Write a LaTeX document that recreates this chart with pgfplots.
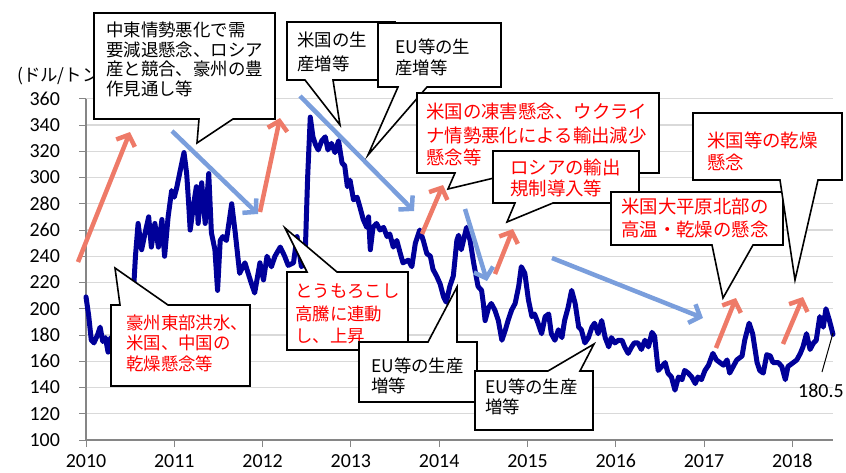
\documentclass[border=0pt]{standalone}
\usepackage{pgfplots}
\pgfplotsset{compat=1.18}
\usepackage{fontspec}
\setmainfont{Carlito}
\newfontfamily\jp{Noto Sans CJK JP}
\usetikzlibrary{arrows.meta}
\definecolor{navy}{RGB}{0,0,153}
\definecolor{redarr}{RGB}{238,122,104}
\definecolor{bluearr}{RGB}{122,158,220}
\definecolor{axgray}{RGB}{134,134,134}
\definecolor{gridgray}{RGB}{217,217,217}
\tikzset{
 arr/.style={line width=4.5bp, -{Straight Barb[length=9bp,width=20bp]}},
 callout/.style={fill=white, draw=black, line width=1.6bp, line join=miter},
 bt/.style={anchor=base west, inner sep=0pt, font=\jp\fontsize{17.5}{20}\selectfont},
 rt/.style={bt, text=red},
 rtl/.style={anchor=base west, inner sep=0pt, text=red, font=\jp\fontsize{18.5}{21}\selectfont},
}
\begin{document}
\begin{tikzpicture}[font=\fontsize{20}{24}\selectfont]
\useasboundingbox (0,0) rectangle (846bp,-473bp);
\begin{axis}[
  at={(86bp,-440bp)}, anchor=south west,
  scale only axis, width=747bp, height=341.25bp,
  xmin=2010, xmax=2018.46, ymin=100, ymax=360,
  axis lines*=left,
  axis line style={axgray, line width=1.2bp},
  xtick={2010,2011,...,2018}, minor x tick num=11,
  ytick={100,120,...,360},
  tick align=outside,
  major tick length=7bp, minor tick length=5bp,
  every tick/.style={axgray, line width=1bp},
  every minor tick/.style={axgray, line width=0.8bp},
  ymajorgrids, grid style={gridgray, line width=1.2bp},
  /pgf/number format/assume math mode=true,
  x tick label style={/pgf/number format/1000 sep={}, anchor=north, inner sep=0pt, yshift=-7bp},
  y tick label style={anchor=east, inner sep=0pt, xshift=-19bp},
  clip=false,
]
\addplot[navy, line width=5bp, line join=round, line cap=round] coordinates {
(2010.00,209)(2010.03,195)(2010.06,176)(2010.09,174)(2010.13,180)(2010.16,186)
(2010.19,175)(2010.22,178)(2010.25,167)(2010.28,178)(2010.32,174)(2010.36,176)
(2010.40,172)(2010.44,178)(2010.48,185)(2010.53,204)(2010.56,240)(2010.59,265)
(2010.63,245)(2010.67,258)(2010.71,270)(2010.74,247)(2010.78,265)(2010.82,247)
(2010.86,268)(2010.89,240)(2010.93,270)(2010.97,290)(2011.00,285)(2011.03,293)
(2011.06,303)(2011.11,319)(2011.14,303)(2011.16,283)(2011.18,260)(2011.22,280)
(2011.25,293)(2011.27,265)(2011.31,296)(2011.35,265)(2011.39,303)(2011.42,258)
(2011.46,245)(2011.49,214)(2011.52,252)(2011.55,255)(2011.59,252)(2011.65,280)
(2011.69,258)(2011.74,227)(2011.80,235)(2011.86,222)(2011.91,212)(2011.97,235)
(2012.01,222)(2012.05,240)(2012.10,232)(2012.14,240)(2012.20,247)(2012.25,240)
(2012.29,233)(2012.35,235)(2012.39,255)(2012.44,232)(2012.48,236)(2012.51,300)
(2012.54,346)(2012.57,331)(2012.60,325)(2012.63,321)(2012.67,328)(2012.71,331)
(2012.74,321)(2012.78,326)(2012.82,319)(2012.86,328)(2012.90,311)(2012.93,309)
(2012.96,293)(2012.99,298)(2013.03,283)(2013.07,285)(2013.10,278)(2013.14,268)
(2013.18,262)(2013.20,270)(2013.22,245)(2013.25,262)(2013.29,265)(2013.33,260)
(2013.37,262)(2013.41,255)(2013.44,257)(2013.48,247)(2013.52,252)(2013.56,242)
(2013.59,235)(2013.65,237)(2013.69,232)(2013.73,250)(2013.78,260)(2013.82,252)
(2013.86,242)(2013.90,240)(2013.93,230)(2013.97,225)(2014.01,219)(2014.05,209)
(2014.08,205)(2014.12,217)(2014.16,225)(2014.20,252)(2014.22,256)(2014.25,245)
(2014.31,262)(2014.35,252)(2014.39,235)(2014.44,217)(2014.48,214)(2014.50,204)
(2014.52,191)(2014.56,201)(2014.59,204)(2014.63,199)(2014.67,191)(2014.71,176)
(2014.75,184)(2014.78,191)(2014.82,199)(2014.86,204)(2014.90,217)(2014.93,232)
(2014.97,227)(2015.01,207)(2015.05,194)(2015.08,196)(2015.12,189)(2015.16,181)
(2015.20,194)(2015.24,196)(2015.27,181)(2015.31,176)(2015.35,184)(2015.39,178)
(2015.42,191)(2015.46,201)(2015.50,214)(2015.54,204)(2015.58,186)(2015.61,184)
(2015.65,174)(2015.69,178)(2015.73,186)(2015.76,189)(2015.80,181)(2015.84,191)
(2015.88,178)(2015.92,171)(2015.95,178)(2015.99,174)(2016.03,176)(2016.07,176)
(2016.10,171)(2016.14,166)(2016.18,171)(2016.21,174)(2016.25,174)(2016.29,169)
(2016.33,176)(2016.37,171)(2016.41,182)(2016.44,179)(2016.48,153)(2016.52,156)
(2016.56,159)(2016.59,151)(2016.63,148)(2016.67,138)(2016.71,148)(2016.75,146)
(2016.78,153)(2016.82,151)(2016.86,148)(2016.90,143)(2016.93,148)(2016.97,146)
(2017.01,153)(2017.05,157)(2017.10,166)(2017.14,161)(2017.18,159)(2017.22,157)
(2017.26,161)(2017.29,151)(2017.33,156)(2017.37,161)(2017.43,164)(2017.46,176)
(2017.51,189)(2017.55,181)(2017.60,159)(2017.63,153)(2017.67,151)(2017.71,165)
(2017.75,164)(2017.78,159)(2017.84,159)(2017.88,156)(2017.92,146)(2017.95,156)
(2018.01,159)(2018.05,161)(2018.09,166)(2018.12,171)(2018.16,181)(2018.20,169)
(2018.24,174)(2018.27,176)(2018.31,194)(2018.35,186)(2018.38,200)(2018.42,191)
(2018.46,180.5)
};
\end{axis}
\begin{scope}[x=1bp,y=-1bp]
\node[bt] at (17,81) {(ドル/トン)};
\draw[black, line width=1bp] (822,372) -- (833,333);
\node[anchor=base west, inner sep=0pt] at (798,397) {180.5};
% arrows
\draw[arr, redarr] (78,262) -- (130,132);
\draw[arr, redarr] (260,212) -- (280,118);
\draw[arr, redarr] (422,234) -- (443,185);
\draw[arr, redarr] (495,274) -- (513,229);
\draw[arr, redarr] (716,348) -- (736,298);
\draw[arr, redarr] (783,344) -- (803,297);
\draw[arr, bluearr] (172,131) -- (258,214);
\draw[arr, bluearr] (300,96) -- (414,211);
\draw[arr, bluearr] (465,209) -- (487,281);
\draw[arr, bluearr] (552,258) -- (703,318);
% A
\draw[callout] (94,13) -- (275,13) -- (275,119) -- (233,119) -- (197,143) -- (199,119) -- (94,119) -- cycle;
\node[bt] at (106,36) {中東情勢悪化で需};
\node[bt] at (106,56) {要減退懸念、ロシア};
\node[bt] at (106,75) {産と競合、豪州の豊};
\node[bt] at (106,95) {作見通し等};
% B
\draw[callout] (287,22) -- (395,22) -- (395,80) -- (333,80) -- (340,125) -- (305,80) -- (287,80) -- cycle;
\node[bt] at (297,46) {米国の生};
\node[bt] at (297,70) {産増等};
% C
\draw[callout] (378,23) -- (501,23) -- (501,87) -- (427,87) -- (368,155) -- (398,87) -- (378,87) -- cycle;
\node[bt] at (395,53) {EU等の生};
\node[bt] at (395,74) {産増等};
% D
\draw[callout] (417,93) -- (659,93) -- (659,173) -- (515,173) -- (448,189) -- (455,173) -- (417,173) -- cycle;
\node[rtl] at (426,118) {米国の凍害懸念、ウクライ};
\node[rtl] at (426,142) {ナ情勢悪化による輸出減少};
\node[rtl] at (426,164) {懸念等};
% E
\draw[callout] (493,151) -- (639,151) -- (639,203) -- (553,203) -- (507,222) -- (515,203) -- (493,203) -- cycle;
\node[rtl] at (510,174) {ロシアの輸出};
\node[rtl] at (510,195) {規制導入等};
% F
\draw[callout] (611,192) -- (783,192) -- (783,245) -- (753,245) -- (723,298) -- (712,245) -- (611,245) -- cycle;
\node[rtl] at (621,213) {米国大平原北部の};
\node[rtl] at (621,236) {高温・乾燥の懸念};
% G
\draw[callout] (693,113) -- (842,113) -- (842,180) -- (818,180) -- (795,280) -- (780,180) -- (693,180) -- cycle;
\node[rtl] at (707,147) {米国等の乾燥};
\node[rtl] at (707,169) {懸念};
% H
\draw[callout] (111,305) -- (120,305) -- (115,268) -- (168,305) -- (250,305) -- (250,386) -- (111,386) -- cycle;
\node[rt] at (126,329) {豪州東部洪水、};
\node[rt] at (126,349) {米国、中国の};
\node[rt] at (126,370) {乾燥懸念等};
% I
\draw[callout] (287,272) -- (307,272) -- (285,228) -- (337,272) -- (408,272) -- (408,350) -- (287,350) -- cycle;
\node[rt] at (295,297) {とうもろこし};
\node[rt] at (295,320) {高騰に連動};
\node[rt] at (295,342) {し、上昇};
% J
\draw[callout] (359,342) -- (428,342) -- (457,287) -- (457,342) -- (477,342) -- (477,402) -- (359,402) -- cycle;
\node[bt] at (371,372) {EU等の生産};
\node[bt] at (371,392) {増等};
% K
\draw[callout] (475,371) -- (548,371) -- (594,344) -- (580,371) -- (593,371) -- (593,430) -- (475,430) -- cycle;
\node[bt] at (485,393) {EU等の生産};
\node[bt] at (485,413) {増等};
\end{scope}
\end{tikzpicture}
\end{document}
